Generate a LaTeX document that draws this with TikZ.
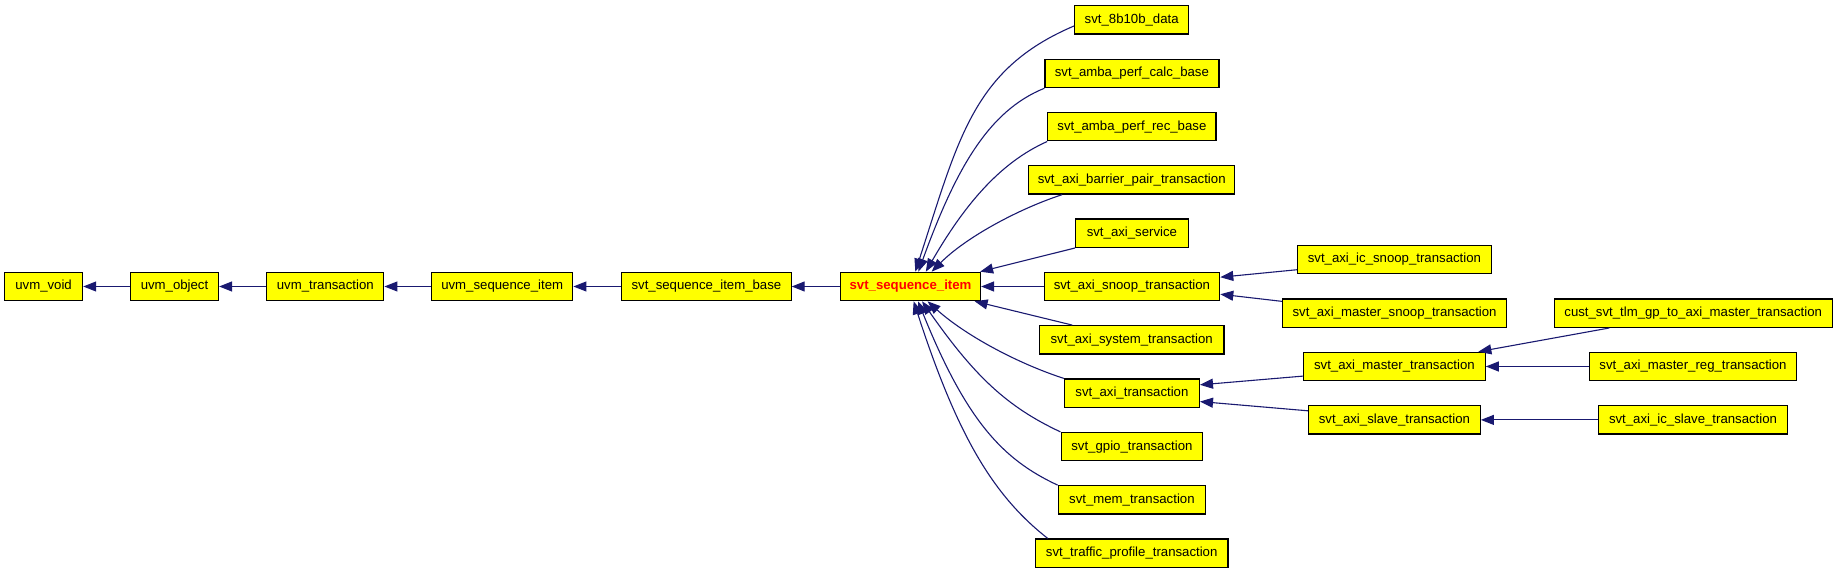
\documentclass[tikz,border=0pt]{standalone}
\usepackage{fontspec}
\newfontfamily\dotfont{Liberation Sans}
\usetikzlibrary{arrows.meta}
\definecolor{dotyellow}{RGB}{255,255,0}
\definecolor{dotnavy}{RGB}{25,25,112}
\definecolor{dotred}{RGB}{255,0,0}

\begin{document}
\begin{tikzpicture}[
  x=0.5pt, y=0.5pt,
  every node/.style={font=\dotfont\fontsize{6.6pt}{8pt}\selectfont},
  classbox/.style={draw=black,fill=dotyellow,line width=0.6pt,minimum height=14.2pt,inner sep=0pt},
  inherit/.style={draw=dotnavy,line width=0.55pt,-{Triangle[length=6.5pt,width=5pt]}},
]
  \useasboundingbox (0,0) rectangle (1837,573);

  % Base chain
  \node[classbox,minimum width=39pt] (uvmvoid) at (43.6,286.5) {uvm\_void};
  \node[classbox,minimum width=44pt] (uvmobject) at (174.5,286.5) {uvm\_object};
  \node[classbox,minimum width=58.5pt] (uvmtrans) at (325.3,286.5) {uvm\_transaction};
  \node[classbox,minimum width=70.6pt] (uvmseqitem) at (502.2,286.5) {uvm\_sequence\_item};
  \node[classbox,minimum width=84.7pt] (seqbase) at (706.4,286.5) {svt\_sequence\_item\_base};
  \node[classbox,minimum width=70pt,text=dotred,font=\dotfont\fontsize{6.6pt}{8pt}\selectfont\bfseries]
    (seqitem) at (910.5,286.5) {svt\_sequence\_item};

  % Direct children
  \node[classbox,minimum width=57pt] (b8b10b) at (1131.7,553.1) {svt\_8b10b\_data};
  \node[classbox,minimum width=87pt] (perfcalc) at (1131.9,499.5) {svt\_amba\_perf\_calc\_base};
  \node[classbox,minimum width=84.1pt] (perfrec) at (1131.9,446.3) {svt\_amba\_perf\_rec\_base};
  \node[classbox,minimum width=103pt] (barrier) at (1131.7,393.1) {svt\_axi\_barrier\_pair\_transaction};
  \node[classbox,minimum width=56.3pt] (service) at (1131.9,339.8) {svt\_axi\_service};
  \node[classbox,minimum width=87.8pt] (snoop) at (1131.9,286.5) {svt\_axi\_snoop\_transaction};
  \node[classbox,minimum width=92.2pt] (system) at (1131.7,233.1) {svt\_axi\_system\_transaction};
  \node[classbox,minimum width=67.5pt] (axitrans) at (1131.9,179.8) {svt\_axi\_transaction};
  \node[classbox,minimum width=70.8pt] (gpio) at (1131.9,126.3) {svt\_gpio\_transaction};
  \node[classbox,minimum width=73.7pt] (mem) at (1131.9,73.1) {svt\_mem\_transaction};
  \node[classbox,minimum width=96.3pt] (traffic) at (1131.7,19.8) {svt\_traffic\_profile\_transaction};

  % Grandchildren
  \node[classbox,minimum width=96.9pt] (icsnoop) at (1394.4,313.5) {svt\_axi\_ic\_snoop\_transaction};
  \node[classbox,minimum width=112.1pt] (msnoop) at (1394.6,259.8) {svt\_axi\_master\_snoop\_transaction};
  \node[classbox,minimum width=90.8pt] (master) at (1394.4,206.5) {svt\_axi\_master\_transaction};
  \node[classbox,minimum width=85.9pt] (slave) at (1394.4,153.1) {svt\_axi\_slave\_transaction};
  \node[classbox,minimum width=138.9pt] (cust) at (1693.2,259.8) {cust\_svt\_tlm\_gp\_to\_axi\_master\_transaction};
  \node[classbox,minimum width=103.8pt] (masterreg) at (1693,206.5) {svt\_axi\_master\_reg\_transaction};
  \node[classbox,minimum width=94.8pt] (icslave) at (1693,153.1) {svt\_axi\_ic\_slave\_transaction};

  % Inheritance arrows
  \draw[inherit] (uvmobject.west) -- (uvmvoid.east);
  \draw[inherit] (uvmtrans.west) -- (uvmobject.east);
  \draw[inherit] (uvmseqitem.west) -- (uvmtrans.east);
  \draw[inherit] (seqbase.west) -- (uvmseqitem.east);
  \draw[inherit] (seqitem.west) -- (seqbase.east);

  \draw[inherit] (b8b10b.186) .. controls +(203:55pt) and +(72:70pt) .. (seqitem.72);
  \draw[inherit] (perfcalc.south west) .. controls +(202:30pt) and +(70:55pt) .. (seqitem.62);
  \draw[inherit] (perfrec.south west) .. controls +(204:25pt) and +(60:40pt) .. (seqitem.44);
  \draw[inherit] (barrier.192) .. controls +(198:22pt) and +(45:25pt) .. (seqitem.35);
  \draw[inherit] (service.south west) -- (seqitem.12);
  \draw[inherit] (snoop.west) -- (seqitem.east);
  \draw[inherit] (system.166) -- (seqitem.-13);
  \draw[inherit] (axitrans.north west) .. controls +(162:25pt) and +(-42:25pt) .. (seqitem.-41);
  \draw[inherit] (gpio.north west) .. controls +(155:30pt) and +(-55:45pt) .. (seqitem.-52);
  \draw[inherit] (mem.north west) .. controls +(155:30pt) and +(-68:65pt) .. (seqitem.-63);
  \draw[inherit] (traffic.170) .. controls +(142:35pt) and +(-72:70pt) .. (seqitem.-78);

  \draw[inherit] (icsnoop.186) -- (snoop.6);
  \draw[inherit] (msnoop.174) -- (snoop.-5);
  \draw[inherit] (master.186) -- (axitrans.7);
  \draw[inherit] (slave.174) -- (axitrans.-7);
  \draw[inherit] (cust.190) -- (master.10);
  \draw[inherit] (masterreg.west) -- (master.east);
  \draw[inherit] (icslave.west) -- (slave.east);
\end{tikzpicture}
\end{document}
